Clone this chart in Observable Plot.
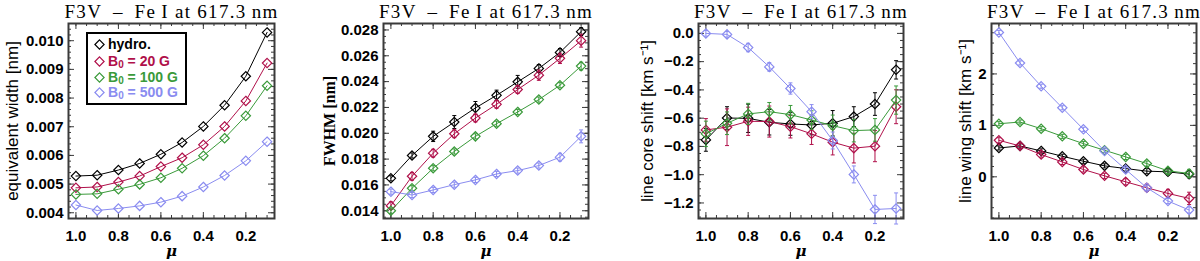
<!DOCTYPE html>
<html><head><meta charset="utf-8">
<script src="https://cdn.jsdelivr.net/npm/d3@7"></script>
<script src="https://cdn.jsdelivr.net/npm/@observablehq/plot@0.6"></script>
<style>
html,body{margin:0;padding:0;background:#fff;}
#wrap{position:relative;width:1200px;height:261px;overflow:hidden;background:#fff;}
.panel{position:absolute;top:0;}
#legend{position:absolute;left:86px;top:32px;width:97px;height:69px;border:2px solid #000;background:#fff;
  font:bold 14px "Liberation Sans",Arial,sans-serif;}
#legend .row{position:absolute;left:0;height:16px;line-height:16px;white-space:nowrap;}
#legend svg{position:absolute;left:6px;top:3px;}
#legend span{position:absolute;left:20px;top:0;}
#legend sub{font-size:10px;vertical-align:-2px;line-height:0;}
</style>
</head><body>
<div id="wrap"></div>
<script>
// ---------- data ----------
const mu = [1.0, 0.9, 0.8, 0.7, 0.6, 0.5, 0.4, 0.3, 0.2, 0.1];
const seriesNames = ["hydro.", "B0 = 20 G", "B0 = 100 G", "B0 = 500 G"];
const seriesColors = ["#000000", "#b0104a", "#3a9a3a", "#8a8cf0"];
const panelTitle = "F3V\u2002\u2013\u2002Fe\u2009I at 617.3\u2009nm";

// equivalent width [nm]
const ewHydro = [0.00528, 0.00531, 0.00549, 0.00572, 0.00604, 0.00645, 0.00701, 0.00775, 0.00876, 0.01029];
const ewB20   = [0.00487, 0.00490, 0.00507, 0.00528, 0.00561, 0.00592, 0.00637, 0.00701, 0.00790, 0.00922];
const ewB100  = [0.00464, 0.00466, 0.00482, 0.00499, 0.00522, 0.00555, 0.00599, 0.00660, 0.00738, 0.00843];
const ewB500  = [0.00427, 0.00408, 0.00415, 0.00424, 0.00437, 0.00458, 0.00490, 0.00530, 0.00581, 0.00648];

// FWHM [nm]
const fwhmHydro = [0.01651, 0.01828, 0.01976, 0.02087, 0.02196, 0.02294, 0.02398, 0.02502, 0.02626, 0.02787];
const fwhmB20   = [0.01439, 0.01667, 0.01846, 0.01996, 0.02118, 0.02224, 0.02339, 0.02450, 0.02580, 0.02717];
const fwhmB100  = [0.01400, 0.01574, 0.01729, 0.01859, 0.01976, 0.02074, 0.02165, 0.02261, 0.02372, 0.02520];
const fwhmB500  = [0.01548, 0.01522, 0.01561, 0.01602, 0.01639, 0.01685, 0.01711, 0.01750, 0.01815, 0.01976];
const fwhmErrHydro = [0.0002, 0.0002, 0.0004, 0.0005, 0.0005, 0.0004, 0.0005, 0.0003, 0.0003, 0.0003];
const fwhmErrB20   = [0.0003, 0.0003, 0.0003, 0.0003, 0.0003, 0.0003, 0.0003, 0.0004, 0.0004, 0.0005];
const fwhmErrB100  = [0.0002, 0.0002, 0.0002, 0.0002, 0.0002, 0.0002, 0.0002, 0.0002, 0.0002, 0.0003];
const fwhmErrB500  = [0.0002, 0.0002, 0.0002, 0.0002, 0.0002, 0.0002, 0.0002, 0.0002, 0.0003, 0.0005];

// line core shift [km/s]
const coreHydro = [-0.754, -0.599, -0.601, -0.629, -0.641, -0.648, -0.636, -0.589, -0.500, -0.258];
const coreB20   = [-0.683, -0.664, -0.622, -0.624, -0.660, -0.711, -0.770, -0.812, -0.798, -0.519];
const coreB100  = [-0.711, -0.636, -0.570, -0.554, -0.575, -0.613, -0.653, -0.688, -0.683, -0.472];
const coreB500  = [0.000, -0.007, -0.100, -0.237, -0.390, -0.554, -0.758, -0.998, -1.246, -1.239];
const coreErrHydro = [0.08, 0.08, 0.10, 0.09, 0.08, 0.07, 0.09, 0.07, 0.08, 0.065];
const coreErrB20   = [0.08, 0.13, 0.10, 0.11, 0.08, 0.075, 0.09, 0.105, 0.11, 0.12];
const coreErrB100  = [0.09, 0.08, 0.075, 0.065, 0.065, 0.065, 0.075, 0.08, 0.08, 0.10];
const coreErrB500  = [0.02, 0.02, 0.03, 0.03, 0.04, 0.05, 0.06, 0.06, 0.10, 0.11];

// line wing shift [km/s]
const wingHydro = [0.561, 0.600, 0.503, 0.400, 0.303, 0.213, 0.161, 0.110, 0.097, 0.052];
const wingB20   = [0.710, 0.600, 0.432, 0.290, 0.142, 0.019, -0.097, -0.213, -0.323, -0.419];
const wingB100  = [1.032, 1.065, 0.935, 0.787, 0.645, 0.516, 0.387, 0.258, 0.116, 0.065];
const wingB500  = [2.806, 2.213, 1.761, 1.342, 0.923, 0.503, 0.142, -0.213, -0.471, -0.645];
const wingErrHydro = [0.04, 0.04, 0.04, 0.04, 0.04, 0.04, 0.05, 0.05, 0.06, 0.07];
const wingErrB20   = [0.05, 0.05, 0.05, 0.05, 0.05, 0.05, 0.06, 0.07, 0.08, 0.12];
const wingErrB100  = [0.04, 0.04, 0.04, 0.04, 0.04, 0.04, 0.05, 0.05, 0.06, 0.08];
const wingErrB500  = [0.04, 0.04, 0.04, 0.04, 0.04, 0.04, 0.05, 0.05, 0.05, 0.06];

// tick values
const xDomain = [1.035, 0.065];
const xMajor = [1.0, 0.8, 0.6, 0.4, 0.2];
const xMinorStep = 0.05;

// ---------- helpers ----------
function rowsOf(valueArrays, errArrays) {
  return valueArrays.map((vals, i) => vals.map((v, j) => ({
    mu: mu[j], v, e: errArrays ? errArrays[i][j] : 0, s: seriesNames[i], c: seriesColors[i]
  })));
}
function stepTicks(lo, hi, step) {
  const a = Math.ceil(lo / step - 1e-9), b = Math.floor(hi / step + 1e-9);
  return d3.range(a, b + 1).map(k => +(k * step).toFixed(6));
}
// small horizontal cap symbol for error bars
const capSymbol = {draw(ctx) { ctx.moveTo(-2, 0); ctx.lineTo(2, 0); }};

const H = 261, MT = 23, MB = 43;
const frameColor = "#3a3a3a";
const sans = "'Liberation Sans', Arial, Helvetica, sans-serif";
const serif = "'Liberation Serif', 'Times New Roman', serif";

function makePanel(cfg) {
  const {left, width, ml, mr, yDomain, yMajor, yMinorStep, fmt, ylabel, ylabelFont, ylabelWeight, ylabelSize, ylabelDx, series} = cfg;
  const fw = width - ml - mr, fh = H - MT - MB;
  const xMinor = stepTicks(Math.min(...xDomain), Math.max(...xDomain), xMinorStep);
  const yMinor = stepTicks(yDomain[0], yDomain[1], yMinorStep);
  const tickStyle = {stroke: frameColor, strokeWidth: 1};
  const marks = [
    Plot.tickX(xMinor, {x: d => d, insetTop: fh - 3, ...tickStyle}),
    Plot.tickX(xMinor, {x: d => d, insetBottom: fh - 3, ...tickStyle}),
    Plot.tickX(xMajor, {x: d => d, insetTop: fh - 6, ...tickStyle}),
    Plot.tickX(xMajor, {x: d => d, insetBottom: fh - 6, ...tickStyle}),
    Plot.tickY(yMinor, {y: d => d, insetRight: fw - 3, ...tickStyle}),
    Plot.tickY(yMinor, {y: d => d, insetLeft: fw - 3, ...tickStyle}),
    Plot.tickY(yMajor, {y: d => d, insetRight: fw - 6, ...tickStyle}),
    Plot.tickY(yMajor, {y: d => d, insetLeft: fw - 6, ...tickStyle}),
    Plot.axisX(xMajor, {tickSize: 0, tickPadding: 12, label: null, tickFormat: d3.format(".1f"), fontSize: 15, fontWeight: "bold", fontFamily: sans, fill: "#000"}),
    Plot.axisY(yMajor, {tickSize: 0, tickPadding: 5, label: null, tickFormat: fmt, fontSize: 15, fontWeight: "bold", fontFamily: sans, fill: "#000"}),
  ];
  series.forEach(rows => {
    const c = rows[0].c;
    const er = rows.filter(d => d.e > 0);
    if (er.length) {
      marks.push(Plot.link(er, {x1: "mu", x2: "mu", y1: d => d.v - d.e, y2: d => d.v + d.e, stroke: c, strokeWidth: 1}));
      marks.push(Plot.dot(er, {x: "mu", y: d => d.v - d.e, symbol: capSymbol, stroke: c, fill: "none", strokeWidth: 1}));
      marks.push(Plot.dot(er, {x: "mu", y: d => d.v + d.e, symbol: capSymbol, stroke: c, fill: "none", strokeWidth: 1}));
    }
    marks.push(Plot.line(rows, {x: "mu", y: "v", stroke: c, strokeWidth: 1}));
    marks.push(Plot.dot(rows, {x: "mu", y: "v", stroke: c, symbol: "diamond2", r: 4.2, fill: "none", strokeWidth: 1.2}));
  });
  marks.push(Plot.frame({stroke: frameColor, strokeWidth: 2}));
  marks.push(Plot.text([panelTitle], {frameAnchor: "top", dy: -6, lineAnchor: "bottom", fontFamily: serif, fontSize: 19, fill: "#000"}));
  marks.push(Plot.text([ylabel], {frameAnchor: "left", dx: ylabelDx, rotate: -90, lineAnchor: "middle", textAnchor: "middle", fontFamily: ylabelFont, fontWeight: ylabelWeight, fontSize: ylabelSize, fill: "#000"}));
  marks.push(Plot.text(["\u03bc"], {frameAnchor: "bottom", dy: 33, lineAnchor: "middle", fontFamily: "'DejaVu Serif', serif", fontStyle: "italic", fontWeight: "bold", fontSize: 15, fill: "#000"}));

  const svg = Plot.plot({
    width, height: H, marginLeft: ml, marginRight: mr, marginTop: MT, marginBottom: MB,
    x: {domain: xDomain},
    y: {domain: yDomain},
    style: {background: "transparent", overflow: "visible"},
    marks
  });
  // widen the IDL-style title lettering
  d3.select(svg).selectAll("text").filter(function() { return this.textContent === panelTitle; })
    .style("letter-spacing", "1.3px");
  const div = document.createElement("div");
  div.className = "panel";
  div.style.left = left + "px";
  div.appendChild(svg);
  document.getElementById("wrap").appendChild(div);
}

makePanel({
  left: 0, width: 290, ml: 68, mr: 16,
  yDomain: [0.0038, 0.0106], yMajor: stepTicks(0.004, 0.010, 0.001), yMinorStep: 0.0002, fmt: d3.format(".3f"),
  ylabel: "equivalent width [nm]", ylabelFont: sans, ylabelWeight: "normal", ylabelSize: 17, ylabelDx: -56,
  series: rowsOf([ewHydro, ewB20, ewB100, ewB500], null)
});
makePanel({
  left: 290, width: 305, ml: 93, mr: 7,
  yDomain: [0.0134, 0.0285], yMajor: stepTicks(0.014, 0.028, 0.002), yMinorStep: 0.0005, fmt: d3.format(".3f"),
  ylabel: "FWHM [nm]", ylabelFont: serif, ylabelWeight: "bold", ylabelSize: 16, ylabelDx: -54,
  series: rowsOf([fwhmHydro, fwhmB20, fwhmB100, fwhmB500], [fwhmErrHydro, fwhmErrB20, fwhmErrB100, fwhmErrB500])
});
makePanel({
  left: 595, width: 315, ml: 103, mr: 7,
  yDomain: [-1.31, 0.07], yMajor: stepTicks(-1.2, 0.0, 0.2), yMinorStep: 0.05, fmt: d3.format(".1f"),
  ylabel: "line core shift [km s\u207b\u00b9]", ylabelFont: sans, ylabelWeight: "normal", ylabelSize: 17, ylabelDx: -51,
  series: rowsOf([coreHydro, coreB20, coreB100, coreB500], [coreErrHydro, coreErrB20, coreErrB100, coreErrB500])
});
makePanel({
  left: 910, width: 290, ml: 81, mr: 4,
  yDomain: [-0.81, 2.98], yMajor: stepTicks(0, 2, 1), yMinorStep: 0.2, fmt: d3.format("d"),
  ylabel: "line wing shift [km s\u207b\u00b9]", ylabelFont: sans, ylabelWeight: "normal", ylabelSize: 17, ylabelDx: -26,
  series: rowsOf([wingHydro, wingB20, wingB100, wingB500], [wingErrHydro, wingErrB20, wingErrB100, wingErrB500])
});

// ---------- legend (HTML overlay in panel 1) ----------
const legend = document.createElement("div");
legend.id = "legend";
const rowTops = [2, 19, 35, 50];
seriesNames.forEach((name, i) => {
  const row = document.createElement("div");
  row.className = "row";
  row.style.top = rowTops[i] + "px";
  row.style.color = seriesColors[i];
  const label = name.replace("B0", "B<sub>0</sub>");
  row.innerHTML = `<svg width="11" height="11" viewBox="-5.5 -5.5 11 11"><path d="M0,-4.6L4.6,0L0,4.6L-4.6,0Z" fill="none" stroke="${seriesColors[i]}" stroke-width="1.2"/></svg><span>${label}</span>`;
  legend.appendChild(row);
});
document.getElementById("wrap").appendChild(legend);
</script>
</body></html>
